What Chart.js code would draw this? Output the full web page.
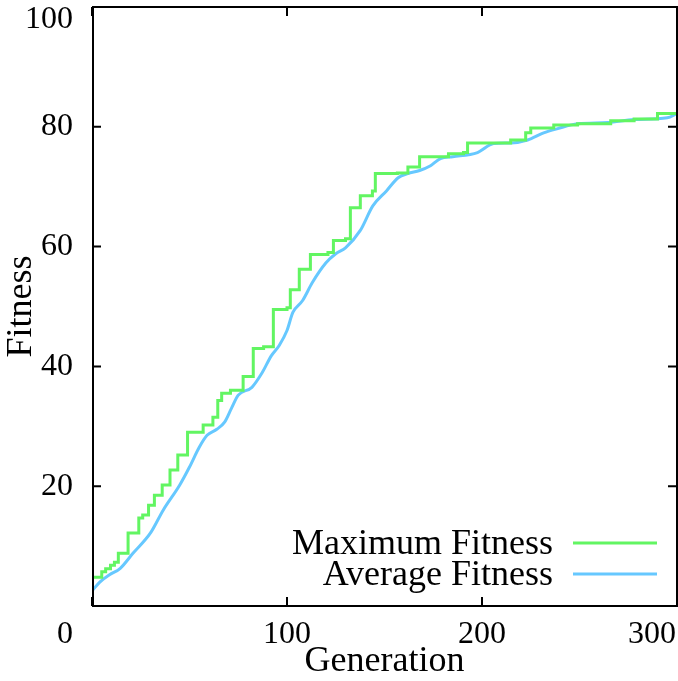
<!DOCTYPE html>
<html>
<head>
<meta charset="utf-8">
<script src="https://cdn.jsdelivr.net/npm/chart.js@4/dist/chart.umd.min.js"></script>
<style>
  html, body { margin: 0; padding: 0; background: #fff; }
  canvas { display: block; }
</style>
</head>
<body>
<canvas id="fitChart" width="678" height="681"></canvas>
<script>
// maximum fitness: generation where each new value starts, and the value
const genMax = [1, 5, 7, 9.5, 11.5, 13.5, 18.5, 24, 26, 29, 32, 36, 40, 44, 49, 57, 62, 64.5, 66.5, 71,
    77.5, 82.7, 88, 93, 100, 101.7, 106.3, 112, 121, 123.8, 130, 132.5, 137.6, 143.8, 145.3, 156.6,
    162, 168, 182.8, 190.5, 192.6, 214.7, 222.4, 225, 236.8, 249, 266, 278, 290, 300];
const fitMax = [4.8, 5.7, 6.2, 6.8, 7.3, 8.8, 12.2, 14.7, 15.2, 16.8, 18.5, 20.2, 22.7, 25.2, 29, 30.2, 31.5, 34.3, 35.5, 36,
    38.3, 43, 43.3, 49.5, 49.8, 52.8, 56.2, 58.7, 59, 61, 61.3, 66.5, 68.5, 69.3, 72.2, 72.3,
    73.3, 75, 75.5, 75.7, 77.3, 77.8, 79, 79.8, 80.3, 80.5, 81, 81.3, 82.2, 82.2];

// average fitness
const genAvg = [0.5, 4, 9, 14.5, 21, 30, 36.5, 45, 50, 55, 59, 64, 68, 71.5, 75, 82, 87, 92, 96, 100,
    103, 108, 113, 120, 125, 130, 137.6, 144, 151, 157, 162, 168, 173.6, 178.7, 185, 197.7, 206,
    214.7, 223.4, 231.6, 238.8, 249, 264.5, 278, 295, 300];
const fitAvg = [2.7, 4, 5.2, 6.3, 8.8, 12.2, 16, 20.2, 23.2, 26.5, 28.5, 29.5, 30.7, 33, 35.2, 36.5, 38.8, 41.8, 43.5, 46,
    49, 51, 54, 57.3, 58.8, 59.8, 62.7, 66.8, 69.3, 71.5, 72.2, 72.7, 73.5, 74.7, 75, 75.7, 77.2,
    77.3, 77.8, 79, 79.7, 80.5, 80.7, 81.2, 81.5, 82.2];

const xTicks = [0, 100, 200, 300];
const yTicks = [0, 20, 40, 60, 80, 100];

const FONT = '"Liberation Serif", "DejaVu Serif", serif';
const TICK_SIZE = 32;
const TEXT_SIZE = 36;

function toPoints(xs, ys) {
    return xs.map((x, i) => ({x: x, y: ys[i]}));
}

// box, inward ticks, tick labels and the key, gnuplot style
const framePlugin = {
    id: 'frame',
    afterDatasetsDraw(chart) {
        const ctx = chart.ctx;
        const a = chart.chartArea;
        const xs = chart.scales.x, ys = chart.scales.y;
        const tl = 9;
        ctx.save();
        ctx.strokeStyle = '#000';
        ctx.lineWidth = 2;
        ctx.strokeRect(a.left + 1, a.top, a.right - a.left - 1, a.bottom - a.top);

        ctx.beginPath();
        xTicks.forEach(v => {
            const px = xs.getPixelForValue(v);
            ctx.moveTo(px, a.bottom); ctx.lineTo(px, a.bottom - tl);
            ctx.moveTo(px, a.top); ctx.lineTo(px, a.top + tl);
        });
        yTicks.forEach(v => {
            const py = ys.getPixelForValue(v);
            ctx.moveTo(a.left, py); ctx.lineTo(a.left + tl, py);
            ctx.moveTo(a.right, py); ctx.lineTo(a.right - tl, py);
        });
        ctx.stroke();

        ctx.fillStyle = '#000';
        ctx.font = TICK_SIZE + 'px ' + FONT;
        ctx.textBaseline = 'middle';
        // y labels
        ctx.textAlign = 'right';
        yTicks.forEach(v => {
            if (v === 0) return;
            let py = ys.getPixelForValue(v);
            if (v === 100) py += 13;
            ctx.fillText(String(v), 73, py);
        });
        // x labels
        const ly = 635;
        xTicks.forEach(v => {
            const px = xs.getPixelForValue(v);
            if (v === 0) {
                ctx.textAlign = 'right';
                ctx.fillText(String(v), 73, ly);
            } else if (v === 300) {
                ctx.textAlign = 'right';
                ctx.fillText(String(v), a.right - 1, ly);
            } else {
                ctx.textAlign = 'center';
                ctx.fillText(String(v), px, ly);
            }
        });

        // key: text on the left, sample line on the right
        ctx.font = TEXT_SIZE + 'px ' + FONT;
        chart.data.datasets.forEach((ds, i) => {
            const ky = 545 + i * 31;
            ctx.textAlign = 'right';
            ctx.fillStyle = '#000';
            ctx.fillText(ds.label, 553, ky);
            ctx.strokeStyle = ds.borderColor;
            ctx.lineWidth = 3;
            ctx.beginPath();
            ctx.moveTo(573, ky - 2);
            ctx.lineTo(657, ky - 2);
            ctx.stroke();
        });
        ctx.restore();
    }
};

new Chart(document.getElementById('fitChart'), {
    type: 'line',
    data: {
        datasets: [{
            label: 'Maximum Fitness',
            data: toPoints(genMax, fitMax),
            borderColor: '#62f562',
            borderWidth: 3,
            pointRadius: 0,
            stepped: 'before',
            fill: false
        }, {
            label: 'Average Fitness',
            data: toPoints(genAvg, fitAvg),
            borderColor: '#66c8ff',
            borderWidth: 3,
            pointRadius: 0,
            cubicInterpolationMode: 'monotone',
            fill: false
        }]
    },
    options: {
        responsive: false,
        animation: false,
        layout: {padding: {top: 7, right: 1, left: 0, bottom: 0}},
        plugins: {
            legend: {display: false},
            tooltip: {enabled: false}
        },
        scales: {
            x: {
                type: 'linear',
                min: 0,
                max: 300,
                grid: {display: false},
                border: {display: false},
                ticks: {display: false},
                title: {
                    display: true,
                    text: 'Generation',
                    color: '#000',
                    font: {family: FONT, size: TEXT_SIZE},
                    padding: {top: 0, bottom: -2}
                },
                afterFit(s) { s.height = 75; }
            },
            y: {
                min: 0,
                max: 100,
                grid: {display: false},
                border: {display: false},
                ticks: {display: false},
                title: {
                    display: true,
                    text: 'Fitness',
                    color: '#000',
                    font: {family: FONT, size: TEXT_SIZE},
                    padding: 0
                },
                afterFit(s) { s.width = 92; }
            }
        }
    },
    plugins: [framePlugin]
});
</script>
</body>
</html>
